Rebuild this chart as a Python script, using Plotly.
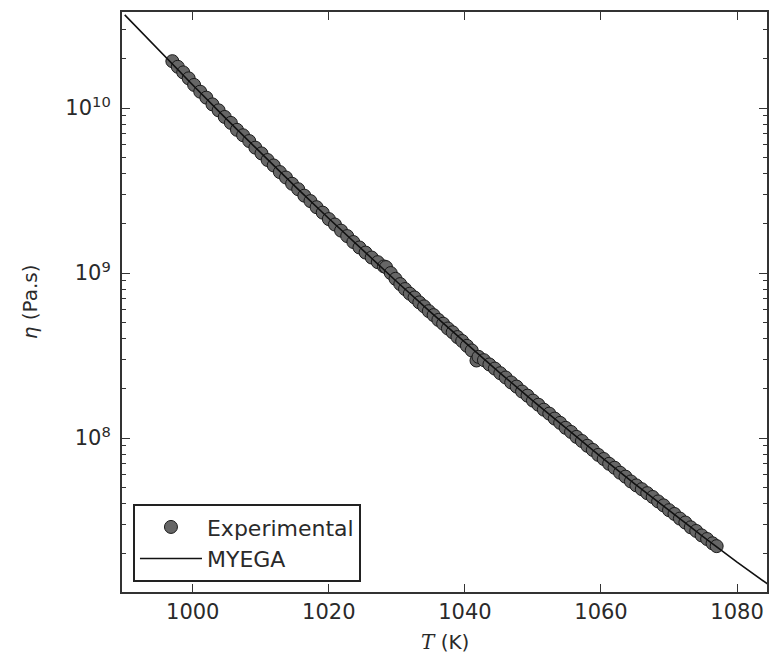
import numpy as np
import plotly.graph_objects as go

# MYEGA fit curve
T_fit = [990, 995, 1000, 1005, 1010, 1015, 1020, 1025, 1030, 1035, 1040,
         1045, 1050, 1055, 1060, 1065, 1070, 1075, 1080, 1085]
eta_fit = [3.67e10, 2.24e10, 1.38e10, 8.53e9, 5.34e9, 3.36e9, 2.14e9, 1.37e9,
           8.86e8, 5.77e8, 3.79e8, 2.51e8, 1.68e8, 1.13e8, 7.68e7, 5.26e7,
           3.63e7, 2.53e7, 1.77e7, 1.26e7]

# Experimental points: temperature (K) and log10 viscosity (Pa.s)
T_exp = [997.0, 997.8, 998.6, 999.4, 1000.2, 1001.1, 1002.0, 1002.9, 1003.8, 1004.7, 1005.6,
         1006.5, 1007.4, 1008.3, 1009.2, 1010.1, 1011.0, 1011.9, 1012.8, 1013.7, 1014.6,
         1015.5, 1016.4, 1017.3, 1018.2, 1019.1, 1020.0, 1020.9, 1021.8, 1022.7, 1023.6,
         1024.5, 1025.4, 1026.3, 1027.2, 1028.1,
         1028.4, 1029.1, 1029.8, 1030.5, 1031.2, 1031.9, 1032.6, 1033.3, 1034.0, 1034.7,
         1035.4, 1036.1, 1036.8, 1037.5, 1038.2, 1038.9, 1039.6, 1040.3, 1041.0, 1041.7,
         1042.0, 1042.8, 1043.6, 1044.4, 1045.2, 1046.0, 1046.8, 1047.6, 1048.4, 1049.2,
         1050.0, 1050.8, 1051.6, 1052.4, 1053.2, 1054.0, 1054.8, 1055.6, 1056.4, 1057.2,
         1058.0, 1058.8, 1059.6, 1060.4, 1061.2, 1062.0, 1062.8, 1063.6, 1064.4, 1065.2,
         1066.0, 1066.8, 1067.6, 1068.4, 1069.2, 1070.0, 1070.8, 1071.6, 1072.4, 1073.2,
         1074.0, 1074.8, 1075.6, 1076.4, 1077.0]
log10_eta_exp = [10.284, 10.250, 10.216, 10.180, 10.140, 10.099, 10.063, 10.022, 9.986, 9.946, 9.910,
                 9.868, 9.835, 9.800, 9.760, 9.725, 9.685, 9.652, 9.612, 9.579, 9.541,
                 9.508, 9.469, 9.436, 9.399, 9.366, 9.327, 9.294, 9.257, 9.224, 9.188,
                 9.155, 9.124, 9.094, 9.066, 9.040,
                 9.036, 9.000, 8.965, 8.933, 8.903, 8.875, 8.852, 8.822, 8.798, 8.769,
                 8.745, 8.716, 8.693, 8.664, 8.641, 8.612, 8.588, 8.559, 8.531, 8.470,
                 8.492, 8.472, 8.446, 8.421, 8.393, 8.367, 8.337, 8.312, 8.282, 8.257,
                 8.227, 8.202, 8.172, 8.148, 8.118, 8.092, 8.062, 8.037, 8.007, 7.982,
                 7.953, 7.928, 7.898, 7.873, 7.844, 7.820, 7.790, 7.766, 7.737, 7.713,
                 7.690, 7.666, 7.643, 7.616, 7.592, 7.563, 7.540, 7.512, 7.488, 7.459,
                 7.437, 7.410, 7.388, 7.362, 7.345]
eta_exp = (10.0 ** np.array(log10_eta_exp)).tolist()

x_ticks = [1000, 1020, 1040, 1060, 1080]
y_major = [1e8, 1e9, 1e10]
y_major_text = ["10<sup>8</sup>", "10<sup>9</sup>", "10<sup>10</sup>"]
y_minor = [m * 10.0 ** e for e in (7, 8, 9, 10) for m in range(2, 10)]

FONT = "DejaVu Sans"
TXT = "#2a2a2a"
AX = "#333333"
Y_RANGE = [7.067, 10.582]

fig = go.Figure()
fig.add_trace(go.Scatter(
    x=T_exp, y=eta_exp, mode="markers", name="Experimental",
    marker=dict(size=13, color="#666666", line=dict(color="#1a1a1a", width=1)),
))
fig.add_trace(go.Scatter(
    x=T_fit, y=eta_fit, mode="lines", name="MYEGA",
    line=dict(color="#111111", width=1.6),
))

axis_common = dict(
    showline=True, linecolor=AX, linewidth=2, mirror="ticks",
    ticks="inside", tickcolor=AX, tickwidth=1, ticklen=8,
    showgrid=False, zeroline=False,
    tickfont=dict(family=FONT, size=21, color=TXT),
)

fig.update_layout(
    width=771, height=659,
    margin=dict(l=122, r=2, t=12, b=67),
    paper_bgcolor="white", plot_bgcolor="white",
    font=dict(family=FONT, size=20, color=TXT),
    xaxis=dict(range=[989.6, 1084.4], tickvals=x_ticks, ticktext=[str(v) for v in x_ticks],
               ticklabelstandoff=0, **axis_common),
    yaxis=dict(type="log", range=Y_RANGE, tickvals=y_major, ticktext=y_major_text,
               ticklabelstandoff=5,
               minor=dict(tickmode="array", tickvals=y_minor, ticks="inside", ticklen=4,
                          tickwidth=1, tickcolor=AX, showgrid=False),
               **axis_common),
    showlegend=True,
    legend=dict(x=0.017, y=0.017, xanchor="left", yanchor="bottom",
                bgcolor="white", bordercolor="#222222", borderwidth=2,
                itemwidth=62,
                font=dict(family=FONT, size=22, color=TXT), tracegroupgap=0),
    annotations=[
        dict(text="<i>η</i> (Pa.s)", xref="paper", yref="paper",
             x=(30 - 122) / 647, y=0.5, xanchor="center", yanchor="middle",
             textangle=-90, showarrow=False, font=dict(family=FONT, size=20, color=TXT)),
        dict(text="<span style=\"font-family:'DejaVu Serif'\"><i>T</i></span> (K)",
             xref="paper", yref="paper",
             x=0.5, y=(592 - 642) / 580, xanchor="center", yanchor="middle",
             showarrow=False, font=dict(family=FONT, size=20, color=TXT)),
    ],
)

fig.write_html("out.html", config={"displayModeBar": False},
               post_script="document.body.style.margin='0px';")
